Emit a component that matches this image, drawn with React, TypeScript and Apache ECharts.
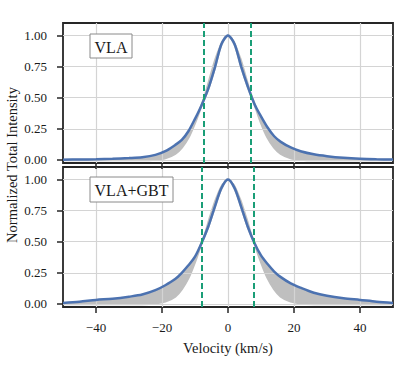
import React, { useEffect, useRef } from 'react';
import * as echarts from 'echarts';

// Velocity samples (km/s)
const velocity = [-50, -45, -40, -35, -30, -26, -22, -19, -16, -14, -12, -10, -8, -6, -4, -2, 0, 2, 4, 6, 8, 10, 12, 14, 16, 19, 22, 26, 30, 35, 40, 45, 50];

// VLA panel
const vlaProfile = [0.002, 0.003, 0.005, 0.009, 0.015, 0.022, 0.04, 0.07, 0.12, 0.16, 0.23, 0.33, 0.44, 0.57, 0.74, 0.93, 1.0, 0.93, 0.75, 0.59, 0.45, 0.35, 0.26, 0.19, 0.145, 0.1, 0.07, 0.045, 0.03, 0.017, 0.009, 0.005, 0.003];
const vlaBandLow = [0, 0, 0, 0, 0, 0, 0.004, 0.015, 0.05, 0.1, 0.18, 0.3, 0.44, 0.57, 0.74, 0.93, 1.0, 0.93, 0.75, 0.59, 0.45, 0.3, 0.18, 0.1, 0.05, 0.015, 0.004, 0, 0, 0, 0, 0, 0];
const vlaBandHigh = [0.002, 0.003, 0.005, 0.009, 0.015, 0.022, 0.04, 0.07, 0.12, 0.16, 0.23, 0.33, 0.46, 0.64, 0.82, 0.95, 1.0, 0.95, 0.82, 0.64, 0.46, 0.35, 0.26, 0.19, 0.145, 0.1, 0.07, 0.045, 0.03, 0.017, 0.009, 0.005, 0.003];
const vlaWidthMarks = [-7.2, 6.9];

// VLA+GBT panel
const comboProfile = [0.008, 0.018, 0.032, 0.042, 0.058, 0.075, 0.11, 0.15, 0.2, 0.25, 0.31, 0.38, 0.49, 0.62, 0.78, 0.93, 1.0, 0.93, 0.78, 0.62, 0.49, 0.39, 0.32, 0.26, 0.215, 0.165, 0.13, 0.09, 0.065, 0.045, 0.032, 0.018, 0.008];
const comboBandLow = [0, 0, 0, 0, 0, 0, 0.005, 0.02, 0.06, 0.12, 0.21, 0.34, 0.49, 0.62, 0.78, 0.93, 1.0, 0.93, 0.78, 0.62, 0.49, 0.34, 0.21, 0.12, 0.06, 0.02, 0.005, 0, 0, 0, 0, 0, 0];
const comboBandHigh = [0.008, 0.018, 0.032, 0.042, 0.058, 0.075, 0.11, 0.15, 0.2, 0.25, 0.31, 0.38, 0.5, 0.68, 0.84, 0.96, 1.0, 0.96, 0.84, 0.68, 0.5, 0.39, 0.32, 0.26, 0.215, 0.165, 0.13, 0.09, 0.065, 0.045, 0.032, 0.018, 0.008];
const comboWidthMarks = [-8.0, 7.7];

const xTicks = [-40, -20, 0, 20, 40];
const yTicks = [0, 0.25, 0.5, 0.75, 1.0];
const panelLabels = ['VLA', 'VLA+GBT'];

const FONT = 'Liberation Serif';
const BLUE = '#4c72b0';
const GREEN = '#1a9e77';
const GRAY = '#bfbfbf';
const DARK = '#262626';

export default function App() {
  const ref = useRef<HTMLDivElement>(null);

  useEffect(() => {
    const chart = echarts.init(ref.current!, null, { renderer: 'svg' });

    const pairs = (ys: number[]) => velocity.map((v, i) => [v, ys[i]]);

    const panels = [
      { profile: vlaProfile, low: vlaBandLow, high: vlaBandHigh, marks: vlaWidthMarks },
      { profile: comboProfile, low: comboBandLow, high: comboBandHigh, marks: comboWidthMarks },
    ];

    const grids = [
      { left: 63, width: 330, top: 23, height: 140 },
      { left: 63, width: 330, top: 167, height: 140 },
    ].map((g) => ({ ...g, show: true, borderColor: DARK, borderWidth: 1.8, backgroundColor: 'transparent' }));

    const xAxes = [0, 1].map((i) => ({
      type: 'value',
      gridIndex: i,
      min: -50,
      max: 50,
      axisLine: { show: false, onZero: false },
      axisTick: { show: true, customValues: xTicks, length: 6, lineStyle: { color: DARK, width: 1.5 } },
      axisLabel: {
        show: i === 1,
        customValues: xTicks,
        margin: 14,
        fontFamily: FONT,
        fontSize: 13,
        color: '#1a1a1a',
        formatter: (v: number) => (v < 0 ? '\u2212' + Math.abs(v) : String(v)),
      },
      splitLine: { show: true, lineStyle: { color: '#d4d4d4', width: 1.2 } },
      name: i === 1 ? 'Velocity (km/s)' : '',
      nameLocation: 'middle',
      nameGap: 33,
      nameTextStyle: { fontFamily: FONT, fontSize: 14.5, color: '#1a1a1a' },
    }));

    const yAxes = [0, 1].map((i) => ({
      type: 'value',
      gridIndex: i,
      min: -0.025,
      max: 1.1,
      axisLine: { show: false, onZero: false },
      axisTick: { show: true, customValues: yTicks, length: 6, lineStyle: { color: DARK, width: 1.5 } },
      axisLabel: {
        customValues: yTicks,
        margin: 16,
        fontFamily: FONT,
        fontSize: 13,
        color: '#1a1a1a',
        formatter: (v: number) => v.toFixed(2),
      },
      splitLine: { show: true, lineStyle: { color: '#d4d4d4', width: 1.2 } },
    }));

    const series: any[] = [];
    panels.forEach((p, i) => {
      series.push({
        type: 'custom',
        xAxisIndex: i,
        yAxisIndex: i,
        silent: true,
        z: -1,
        data: velocity.map((v, k) => [v, p.low[k], p.high[k]]),
        encode: { x: 0, y: [1, 2] },
        renderItem: (params: any, api: any) => {
          if (params.dataIndex !== 0) return null;
          const upper = velocity.map((v, k) => api.coord([v, p.high[k]]));
          const lower = velocity.map((v, k) => api.coord([v, p.low[k]])).reverse();
          return {
            type: 'polygon',
            shape: { points: upper.concat(lower), smooth: 0.25 },
            style: { fill: GRAY, stroke: 'none' },
          };
        },
      });
      series.push({
        type: 'line',
        xAxisIndex: i,
        yAxisIndex: i,
        data: pairs(p.low),
        smooth: 0.3,
        symbol: 'none',
        lineStyle: { color: GRAY, width: 2.5 },
        z: -1,
        silent: true,
      });
      series.push({
        type: 'line',
        xAxisIndex: i,
        yAxisIndex: i,
        data: pairs(p.profile),
        smooth: 0.3,
        symbol: 'none',
        lineStyle: { color: BLUE, width: 2.5 },
        z: 4,
        markLine: {
          silent: true,
          symbol: 'none',
          label: { show: false },
          lineStyle: { color: GREEN, type: [6, 3], width: 2 },
          data: p.marks.map((m) => ({ xAxis: m })),
        },
      });
    });

    const box = (x: number, y: number, w: number, h: number, text: string) => ({
      type: 'group',
      z: 100,
      children: [
        { type: 'rect', shape: { x, y, width: w, height: h }, style: { fill: '#ffffff', stroke: '#8a8a8a', lineWidth: 1 }, z: 100 },
        {
          type: 'text',
          x: x + w / 2,
          y: y + h / 2 + 1,
          z: 101,
          style: { text, fill: '#1a1a1a', font: `16px ${FONT}`, textAlign: 'center', textVerticalAlign: 'middle', verticalAlign: 'middle' },
        },
      ],
    });

    chart.setOption({
      animation: false,
      grid: grids,
      xAxis: xAxes,
      yAxis: yAxes,
      series,
      graphic: [
        box(90, 34, 42, 24, panelLabels[0]),
        box(90, 177, 83, 25, panelLabels[1]),
        {
          type: 'text',
          x: 12,
          y: 165,
          rotation: Math.PI / 2,
          style: {
            text: 'Normalized Total Intensity',
            fill: '#1a1a1a',
            font: `14.5px ${FONT}`,
            textAlign: 'center',
            textVerticalAlign: 'middle',
            verticalAlign: 'middle',
          },
        },
      ],
    });

    return () => chart.dispose();
  }, []);

  return <div ref={ref} style={{ position: 'fixed', left: 0, top: 0, width: 416, height: 371, background: '#fff' }} />;
}
